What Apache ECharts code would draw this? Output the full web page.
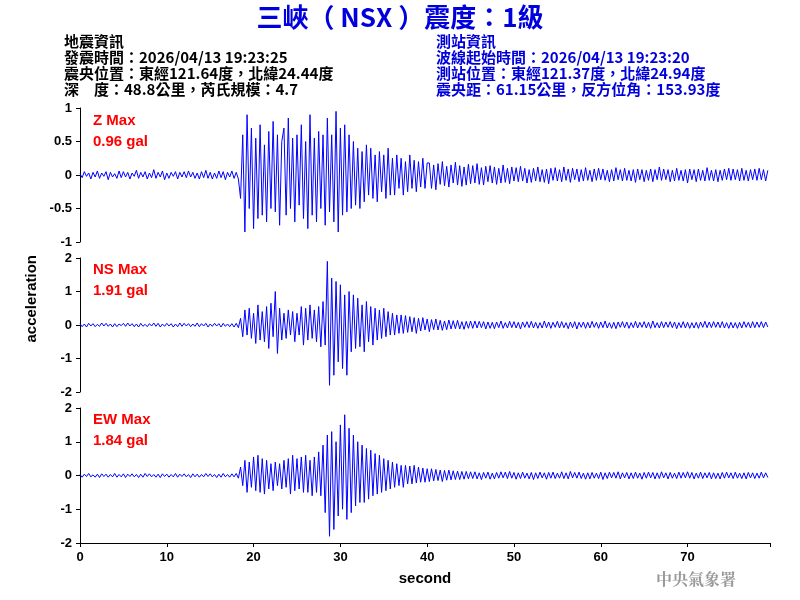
<!DOCTYPE html>
<html>
<head>
<meta charset="utf-8">
<script src="https://cdn.jsdelivr.net/npm/echarts@6/dist/echarts.min.js"></script>
<style>html,body{margin:0;padding:0;background:#fff}#main{width:800px;height:600px}</style>
</head>
<body>
<div id="main"></div>
<script>
// one value every 0.25 s
var step = 0.25

// Z component
var zPre = [0.02,-0.04,0.05,-0.02,0.03,-0.06,0.04,-0.03,0.06,-0.05,
  0.03,-0.02,0.05,-0.07,0.04,-0.03,0.02,-0.05,0.06,-0.04,
  0.05,-0.03,0.04,-0.06,0.03,-0.02,0.07,-0.05,0.04,-0.03,
  0.05,-0.06,0.03,-0.04,0.08,-0.05,0.04,-0.03,0.06,-0.07,
  0.03,-0.05,0.04,-0.02,0.05,-0.06,0.04,-0.03,0.05,-0.04,
  0.06,-0.03,0.04,-0.05,0.03,-0.06,0.05,-0.04,0.07,-0.05,
  0.04,-0.06,0.03,-0.05,0.06,-0.04,0.05,-0.07,0.04,-0.03,
  0.06,-0.05,0.04,-0.06]
var zMain = [-0.35,0.6,-0.85,0.9,-0.5,0.7,-0.8,0.55,-0.65,0.75,
  -0.6,0.45,-0.7,0.65,-0.5,0.8,-0.55,0.6,-0.75,0.5,
  0.7,-0.6,0.85,-0.5,0.55,-0.7,0.6,-0.45,0.75,-0.65,
  0.5,-0.8,0.9,-0.6,0.55,-0.7,0.65,-0.5,0.6,-0.75,
  0.85,-0.55,0.6,-0.7,0.95,-0.85,0.7,-0.6,0.75,-0.55,
  0.6,-0.5]
var zCoda = [0.5,-0.45,0.4,-0.5,0.35,-0.4,0.45,-0.3,0.4,-0.35,
  0.3,-0.4,0.35,-0.25,0.3,-0.35,0.4,-0.3,0.25,-0.3,
  0.3,-0.2,0.25,-0.3,0.2,-0.25,0.3,-0.2,0.22,-0.25,
  0.2,-0.18,0.25,-0.2,0.18]
var zTail = [0.18,-0.2,0.15,-0.22,0.17,-0.14,0.2,-0.16,0.13,-0.18,
  0.15,-0.12,0.19,-0.15,0.14,-0.17,0.12,-0.15,0.16,-0.13,
  0.14,-0.12,0.17,-0.14,0.11,-0.15,0.13,-0.1,0.14,-0.12,
  0.12,-0.14,0.1,-0.12,0.15,-0.11,0.1,-0.13,0.12,-0.09,
  0.11,-0.1,0.13,-0.09,0.1,-0.12,0.08,-0.11,0.1,-0.09,
  0.12,-0.1,0.08,-0.11,0.09,-0.13,0.1,-0.08,0.11,-0.09,
  0.08,-0.1,0.12,-0.08,0.09,-0.11,0.1,-0.07,0.09,-0.1,
  0.08,-0.09,0.11,-0.08,0.07,-0.1,0.09,-0.08,0.1,-0.07,
  0.09,-0.08,0.07,-0.1,0.08,-0.09,0.11,-0.07,0.08,-0.09,
  0.1,-0.08,0.07,-0.09,0.08,-0.11,0.09,-0.07,0.08,-0.1,
  0.07,-0.08,0.09,-0.1,0.08,-0.07,0.12,-0.08,0.09,-0.07,
  0.08,-0.1,0.07,-0.09,0.1,-0.08,0.07,-0.09,0.08,-0.12,
  0.09,-0.07,0.08,-0.1,0.09,-0.08,0.07,-0.09,0.11,-0.08,
  0.07,-0.09,0.08,-0.1,0.07,-0.08,0.09,-0.07,0.1,-0.08,
  0.09,-0.07,0.08,-0.09,0.1,-0.08,0.07,-0.09,0.08,-0.07,
  0.09,-0.08,0.1,-0.07,0.08,-0.09,0.07]

// NS component
var nsPre = [0.04,-0.05,0.03,-0.06,0.05,-0.03,0.04,-0.05,0.02,-0.04,
  0.06,-0.03,0.05,-0.04,0.03,-0.06,0.04,-0.05,0.03,-0.02,
  0.05,-0.04,0.06,-0.03,0.04,-0.05,0.03,-0.06,0.05,-0.04,
  0.02,-0.05,0.04,-0.03,0.06,-0.04,0.05,-0.06,0.03,-0.04,
  0.05,-0.03,0.04,-0.06,0.03,-0.05,0.06,-0.04,0.05,-0.03,
  0.04,-0.05,0.03,-0.04,0.06,-0.05,0.04,-0.03,0.05,-0.06,
  0.03,-0.04,0.05,-0.03,0.04,-0.06,0.05,-0.04,0.03,-0.05,
  0.04,-0.06,0.05,-0.08]
var nsEarly = [0.2,-0.35,0.45,-0.3,0.5,-0.4,0.35,-0.55,0.6,-0.45,
  0.4,-0.5,0.55,-0.7,0.65,-0.35,1.0,-0.85,0.5,-0.45,
  0.35,-0.4,0.45,-0.3,0.4,-0.5,0.35,-0.3,0.55,-0.6,
  0.5,-0.45,0.6,-0.4,0.45,-0.5,0.55,-0.65,0.7,-0.6]
var nsBig = [1.9,-1.8,1.4,-1.5,1.3,-1.1,1.2,-1.3,0.9,-1.5,1.0,-0.8]
var nsMid = [0.9,-0.7,0.8,-0.65,0.6,-0.8,0.7,-0.5,0.55,-0.6,
  0.5,-0.45,0.45,-0.4,0.5,-0.35,0.4,-0.3,0.35,-0.3,
  0.3,-0.25,0.3,-0.25]
var nsCoda = [0.28,-0.22,0.25,-0.2,0.22,-0.25,0.2,-0.18,0.22,-0.15,
  0.18,-0.2,0.16,-0.14,0.18,-0.15,0.14,-0.16,0.12,-0.14,
  0.15,-0.12,0.13,-0.11,0.14,-0.12,0.1,-0.13,0.11,-0.1,
  0.12]
var nsTail = [-0.1,0.12,-0.09,0.11,-0.08,0.1,-0.12,0.09,-0.1,0.08,
  -0.11,0.09,-0.08,0.12,-0.1,0.07,-0.09,0.11,-0.08,0.1,
  -0.09,0.08,-0.12,0.09,-0.07,0.1,-0.08,0.11,-0.09,0.08,
  -0.1,0.07,-0.09,0.12,-0.08,0.09,-0.1,0.08,-0.07,0.11,
  -0.09,0.1,-0.08,0.07,-0.11,0.09,-0.08,0.1,-0.12,0.08,
  -0.07,0.09,-0.1,0.08,-0.09,0.11,-0.07,0.08,-0.1,0.09,
  -0.08,0.12,-0.09,0.07,-0.1,0.08,-0.11,0.09,-0.07,0.1,
  -0.08,0.09,-0.1,0.07,-0.08,0.11,-0.09,0.08,-0.07,0.1,
  -0.09,0.08,-0.1,0.12,-0.08,0.07,-0.09,0.1,-0.08,0.09,
  -0.07,0.1,-0.08,0.09,-0.11,0.07,-0.08,0.1,-0.09,0.08,
  -0.1,0.07,-0.09,0.08,-0.1,0.09,-0.07,0.11,-0.08,0.09,
  -0.08,0.1,-0.07,0.09,-0.08,0.1,-0.09,0.07,-0.1,0.08,
  -0.09,0.07,-0.1,0.08,-0.09,0.1,-0.07,0.08,-0.09,0.1,
  -0.08,0.09,-0.07,0.1,-0.08,0.09,-0.06]

// EW component
var ewPre = [0.03,-0.05,0.04,-0.03,0.06,-0.04,0.02,-0.05,0.04,-0.06,
  0.05,-0.03,0.04,-0.05,0.03,-0.04,0.06,-0.05,0.03,-0.04,
  0.05,-0.06,0.04,-0.03,0.05,-0.04,0.03,-0.06,0.04,-0.05,
  0.06,-0.03,0.05,-0.04,0.03,-0.05,0.04,-0.06,0.05,-0.03,
  0.04,-0.05,0.03,-0.04,0.06,-0.05,0.04,-0.03,0.05,-0.04,
  0.03,-0.06,0.05,-0.04,0.04,-0.05,0.03,-0.04,0.06,-0.03,
  0.05,-0.04,0.03,-0.06,0.04,-0.05,0.06,-0.04,0.03,-0.05,
  0.05,-0.04,0.06,-0.08]
var ewEarly = [0.25,-0.3,0.45,-0.5,0.4,-0.35,0.55,-0.45,0.6,-0.5,
  0.5,-0.55,0.45,-0.4,0.35,-0.45,0.4,-0.3,0.35,-0.4,
  0.45,-0.35,0.5,-0.55,0.6,-0.45,0.5,-0.4,0.55,-0.5,
  0.6,-0.5,0.45,-0.6,0.55,-0.5,0.7,-0.6]
var ewBig = [0.9,-1.1,1.2,-1.8,1.3,-1.6,1.0,-1.2,1.5,-1.0,1.8,-1.3,1.4,-1.1,1.2,-0.9,1.0,-0.8]
var ewMid = [0.9,-0.8,0.8,-0.7,0.75,-0.6,0.65,-0.55,0.6,-0.5,0.5,-0.45,0.45,-0.4,0.4,-0.35]
var ewCoda = [0.35,-0.3,0.3,-0.35,0.3,-0.25,0.28,-0.25,0.3,-0.22,
  0.25,-0.2,0.22,-0.2,0.2,-0.18,0.2,-0.16,0.18,-0.15,
  0.16,-0.18,0.15,-0.14,0.16,-0.13,0.14,-0.12,0.13,-0.12,
  0.12,-0.11,0.12,-0.1,0.11]
var ewTail = [-0.09,0.11,-0.1,0.08,-0.12,0.09,-0.08,0.1,-0.11,0.07,
  -0.1,0.09,-0.08,0.11,-0.07,0.1,-0.09,0.12,-0.08,0.09,
  -0.11,0.08,-0.09,0.1,-0.08,0.07,-0.1,0.09,-0.12,0.08,
  -0.09,0.1,-0.07,0.08,-0.11,0.09,-0.08,0.1,-0.09,0.07,
  -0.08,0.11,-0.09,0.08,-0.1,0.12,-0.07,0.09,-0.08,0.1,
  -0.09,0.07,-0.11,0.08,-0.1,0.09,-0.08,0.07,-0.09,0.1,
  -0.12,0.08,-0.09,0.1,-0.07,0.09,-0.08,0.11,-0.1,0.08,
  -0.07,0.09,-0.1,0.08,-0.09,0.1,-0.08,0.07,-0.11,0.09,
  -0.08,0.1,-0.07,0.09,-0.1,0.08,-0.09,0.11,-0.07,0.08,
  -0.1,0.09,-0.08,0.07,-0.09,0.1,-0.08,0.09,-0.07,0.11,
  -0.08,0.09,-0.1,0.07,-0.08,0.1,-0.09,0.08,-0.07,0.09,
  -0.1,0.08,-0.09,0.07,-0.1,0.09,-0.08,0.1,-0.07,0.08,
  -0.09,0.1,-0.08,0.07,-0.09,0.08,-0.1,0.09,-0.07,0.08,
  -0.09,0.07,-0.08,0.1,-0.07,0.08,-0.06]

var zData = zPre.concat(zMain, zCoda, zTail)
var nsData = nsPre.concat(nsEarly, nsBig, nsMid, nsCoda, nsTail)
var ewData = ewPre.concat(ewEarly, ewBig, ewMid, ewCoda, ewTail)

var xTicks = [0,10,20,30,40,50,60,70]
var leftInfo = ['地震資訊','發震時間：2026/04/13 19:23:25','震央位置：東經121.64度，北緯24.44度','深　度：48.8公里，芮氏規模：4.7']
var rightInfo = ['測站資訊','波線起始時間：2026/04/13 19:23:20','測站位置：東經121.37度，北緯24.94度','震央距：61.15公里，反方位角：153.93度']
var panels = [
  {name:'Z', data:zData, max:1, interval:0.5, label:'Z Max\n0.96 gal'},
  {name:'NS', data:nsData, max:2, interval:1, label:'NS Max\n1.91 gal'},
  {name:'EW', data:ewData, max:2, interval:1, label:'EW Max\n1.84 gal'}
]
var grids = [{top:108,height:134},{top:258,height:134},{top:408,height:135}]

function toPairs(arr){
  return arr.map(function(v,i){ return [i*step, v] })
}

var font = 'Arial, "Liberation Sans", sans-serif'
var cjk = '"Noto Sans CJK TC", sans-serif'
var chart = echarts.init(document.getElementById('main'))
var option = {
  animation:false,
  grid: grids.map(function(g){ return {left:80, right:30, top:g.top, height:g.height} }),
  xAxis: panels.map(function(p,i){
    var last = i===2
    return {
      type:'value', gridIndex:i, min:0, max:79.5, interval:10,
      axisLine:{show:last, onZero:false, lineStyle:{color:'#000'}},
      axisTick:{show:last, length:4, lineStyle:{color:'#000'}},
      axisLabel:{show:last, color:'#000', fontFamily:font, fontWeight:'bold', fontSize:13,
        formatter:function(v){ return xTicks.indexOf(v)>=0 ? v : '' }},
      splitLine:{show:false},
      name: last ? 'second' : '', nameLocation:'middle', nameGap:28,
      nameTextStyle:{color:'#000', fontFamily:font, fontWeight:'bold', fontSize:15}
    }
  }),
  yAxis: panels.map(function(p,i){
    return {
      type:'value', gridIndex:i, min:-p.max, max:p.max, interval:p.interval,
      axisLine:{show:true, lineStyle:{color:'#000'}},
      axisTick:{show:true, length:4, lineStyle:{color:'#000'}},
      axisLabel:{color:'#000', fontFamily:font, fontWeight:'bold', fontSize:13},
      splitLine:{show:false}
    }
  }),
  series: panels.map(function(p,i){
    return {type:'line', xAxisIndex:i, yAxisIndex:i, data:toPairs(p.data), showSymbol:false,
      lineStyle:{color:'#0000ff', width:1}, itemStyle:{color:'#0000ff'}}
  }),
  graphic: [
    {type:'text', left:'center', top:4, style:{text:'三峽（ NSX ）震度：1級', fill:'#0000dd', font:'bold 26px '+cjk}},
    {type:'text', left:64, top:33, style:{text:leftInfo.join('\n'), fill:'#000', font:'bold 15px '+cjk, lineHeight:16}},
    {type:'text', left:436, top:33, style:{text:rightInfo.join('\n'), fill:'#0000dd', font:'bold 15px '+cjk, lineHeight:16}},
    {type:'text', left:93, top:110, style:{text:panels[0].label, fill:'#ff0000', font:'bold 15px '+font, lineHeight:21}},
    {type:'text', left:93, top:259, style:{text:panels[1].label, fill:'#ff0000', font:'bold 15px '+font, lineHeight:21}},
    {type:'text', left:93, top:409, style:{text:panels[2].label, fill:'#ff0000', font:'bold 15px '+font, lineHeight:21}},
    {type:'text', left:24, top:255, rotation:Math.PI/2, style:{text:'acceleration', fill:'#000', font:'bold 15px '+font}},
    {type:'text', left:656, top:571, style:{text:'中央氣象署', fill:'#999', font:'bold 16px "Noto Serif CJK TC", '+cjk}}
  ]
}
chart.setOption(option)
</script>
</body>
</html>
